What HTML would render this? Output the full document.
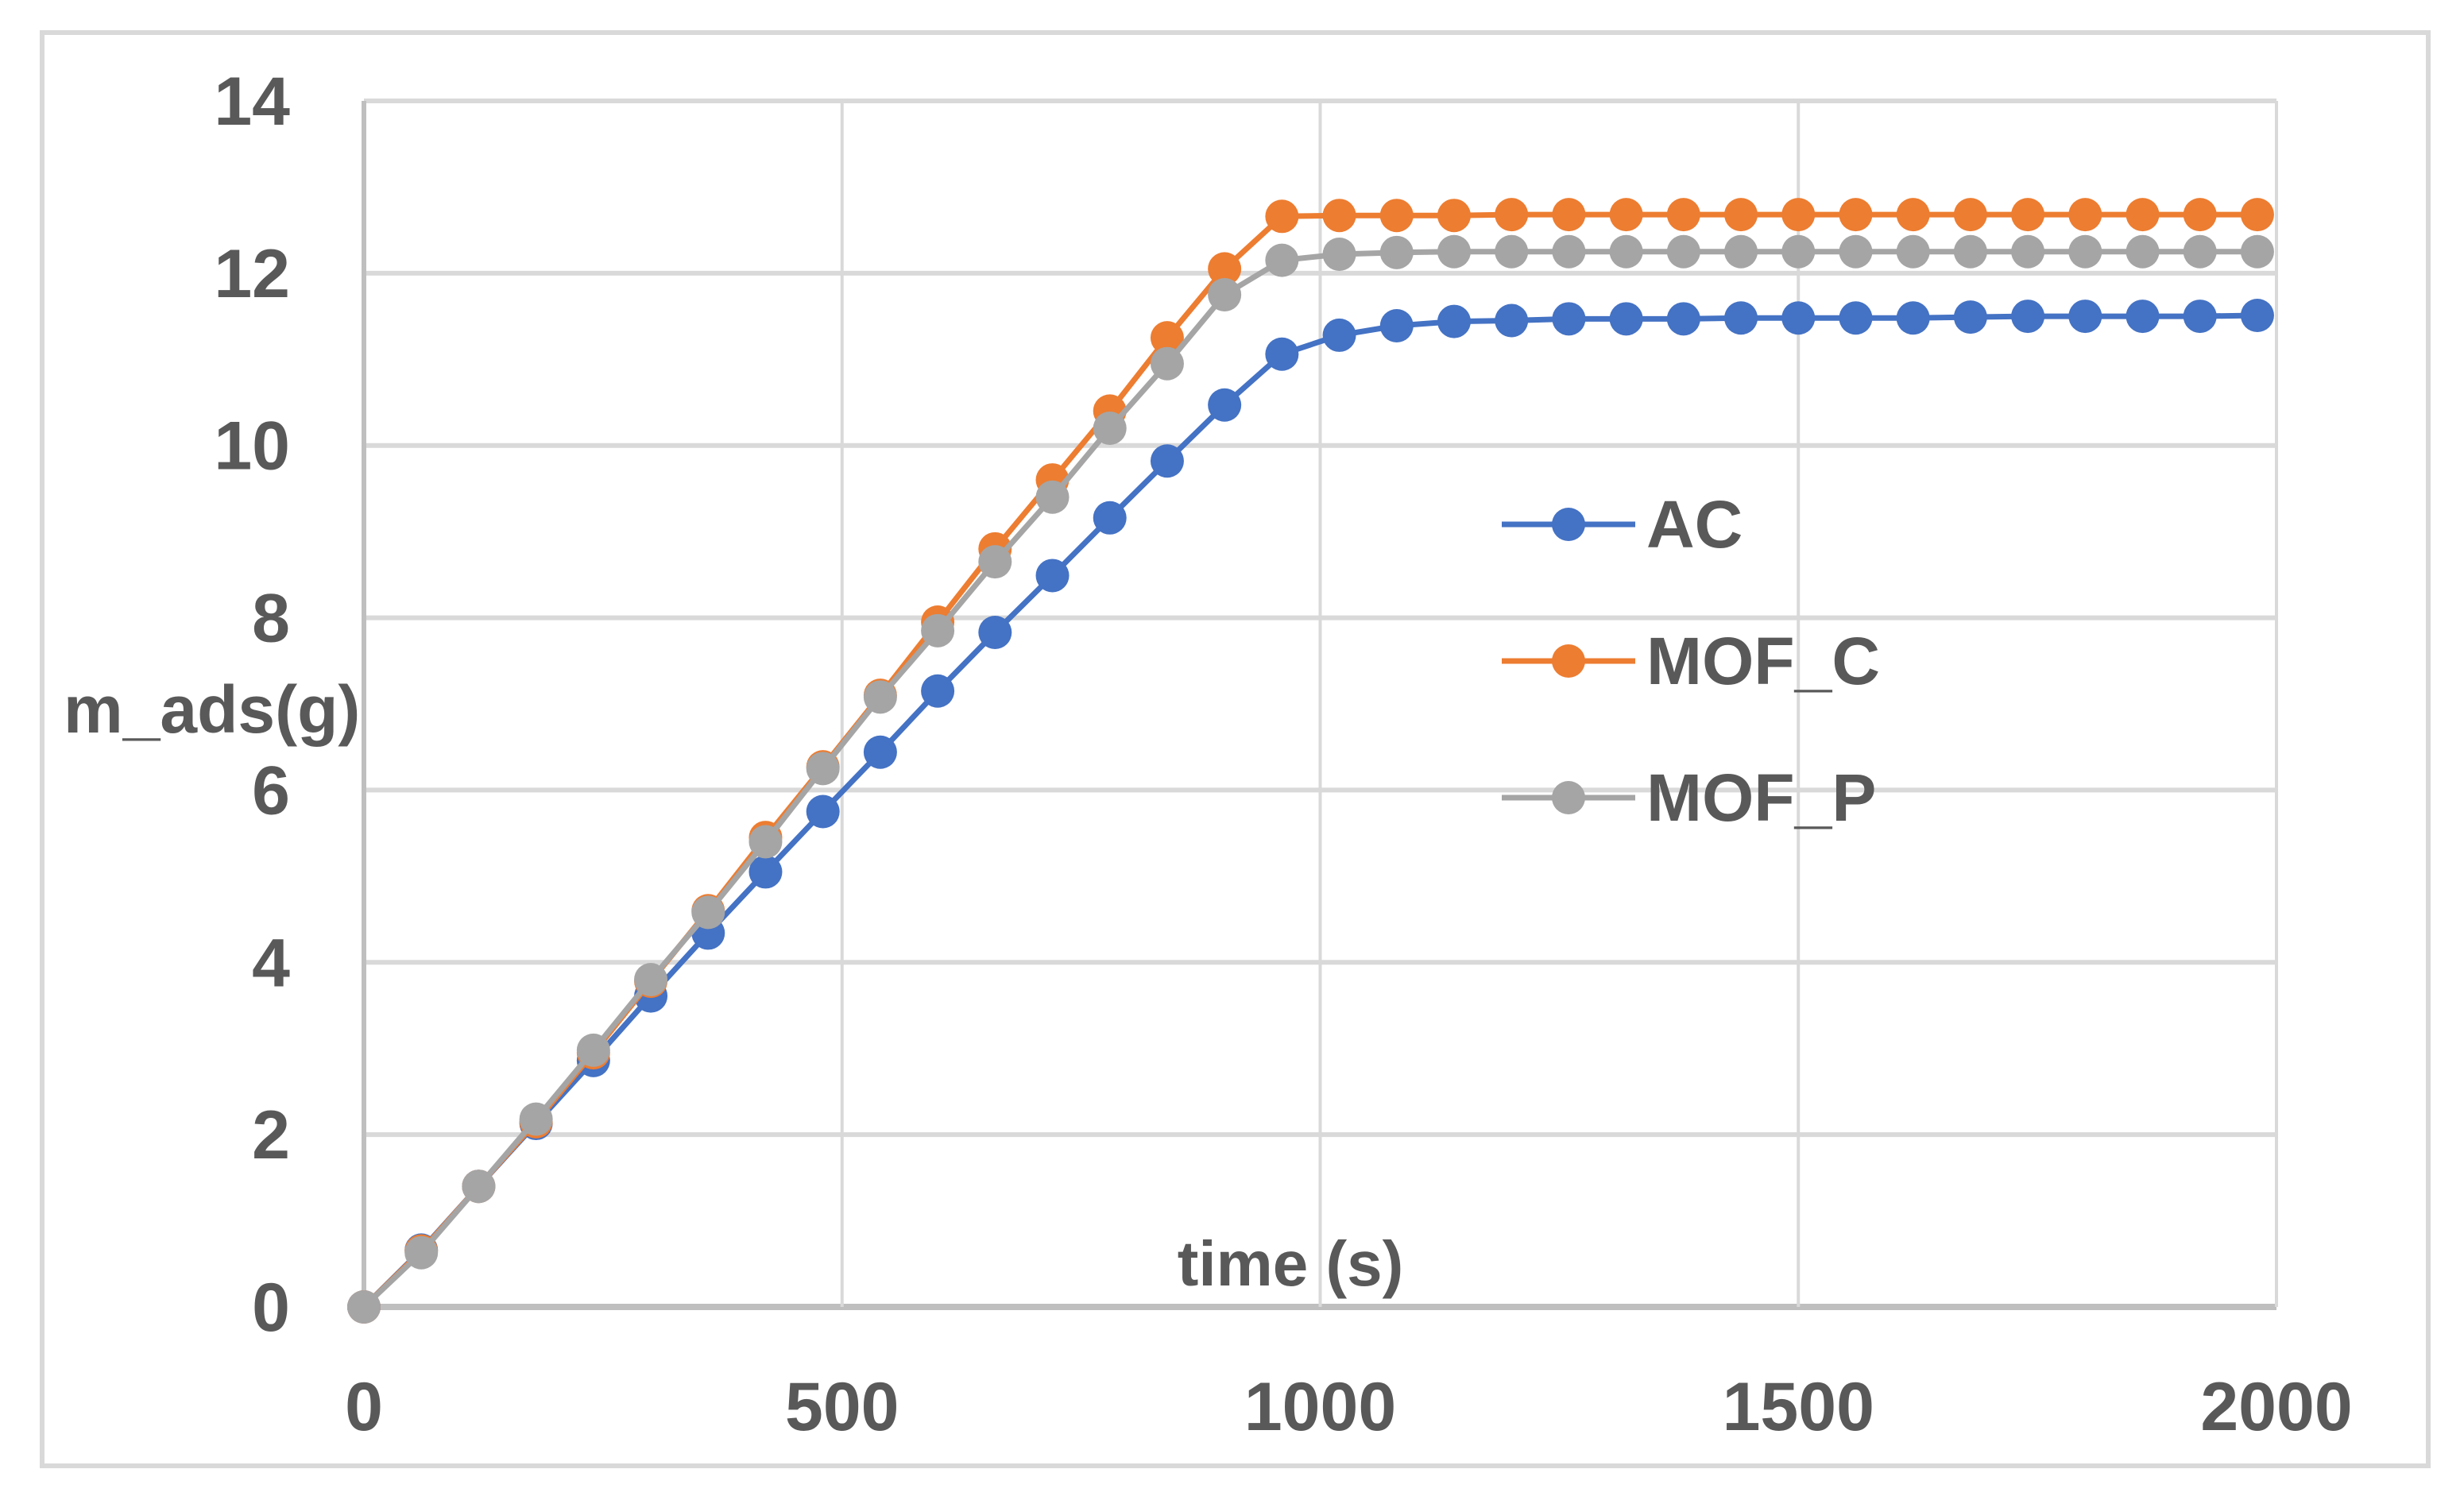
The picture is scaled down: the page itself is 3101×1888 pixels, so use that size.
<!DOCTYPE html>
<html><head><meta charset="utf-8"><style>
html,body{margin:0;padding:0;background:#fff;}
svg{display:block;}
text{font-family:"Liberation Sans",sans-serif;font-weight:bold;fill:#595959;}
</style></head><body>
<svg id="chart" width="3101" height="1888" viewBox="0 0 3101 1888" xmlns="http://www.w3.org/2000/svg">
<rect x="53" y="41" width="3003" height="1804" fill="#fff" stroke="#d9d9d9" stroke-width="6"/>
<g id="grid"></g>
<g id="series"></g>
<g id="labels"></g>
<text x="1624" y="1618" font-size="80" text-anchor="middle">time (s)</text>
<text x="80" y="922" font-size="84">m_ads(g)</text>
<g id="legend"></g>
</svg>
<script>
const xTicks=[0,500,1000,1500,2000];
const yTicks=[0,2,4,6,8,10,12,14];
const times=[0,60,120,180,240,300,360,420,480,540,600,660,720,780,840,900,960,1020,1080,1140,1200,1260,1320,1380,1440,1500,1560,1620,1680,1740,1800,1860,1920,1980];
const acValues=[0,0.66,1.4,2.13,2.86,3.61,4.34,5.05,5.75,6.44,7.15,7.83,8.49,9.16,9.82,10.47,11.06,11.28,11.39,11.44,11.45,11.47,11.47,11.47,11.48,11.48,11.48,11.48,11.49,11.5,11.5,11.5,11.5,11.51];
const mofCValues=[0,0.65,1.4,2.15,2.95,3.78,4.6,5.45,6.27,7.1,7.95,8.8,9.6,10.4,11.25,12.05,12.66,12.67,12.67,12.67,12.68,12.68,12.68,12.68,12.68,12.68,12.68,12.68,12.68,12.68,12.68,12.68,12.68,12.68];
const mofPValues=[0,0.63,1.4,2.18,2.98,3.8,4.58,5.4,6.25,7.08,7.85,8.65,9.4,10.2,10.95,11.75,12.15,12.22,12.24,12.25,12.25,12.25,12.25,12.25,12.25,12.25,12.25,12.25,12.25,12.25,12.25,12.25,12.25,12.25];
const seriesNames=["AC","MOF_C","MOF_P"];
const seriesColors=["#4472c4","#ed7d31","#a5a5a5"];
const NS="http://www.w3.org/2000/svg";
const X0=458,X1=2865,Y0=1645,Y1=127;
function xs(v){return X0+(v-0)/(2000-0)*(X1-X0);}
function ys(v){return Y0-(v-0)/(14-0)*(Y0-Y1);}
function mk(tag,attrs,parent){const e=document.createElementNS(NS,tag);for(const k in attrs)e.setAttribute(k,attrs[k]);parent.appendChild(e);return e;}
const grid=document.getElementById('grid'),labels=document.getElementById('labels'),ser=document.getElementById('series'),leg=document.getElementById('legend');
yTicks.forEach(t=>{
  const l=mk('line',{x1:X0,x2:X1,y1:ys(t),y2:ys(t),stroke:t===0?'#bfbfbf':'#d9d9d9','stroke-width':t===0?8:6},grid);
  
  
  const tx=mk('text',{x:365,y:ys(t)+30,'font-size':86,'text-anchor':'end'},labels);
  tx.textContent=t;
  
  
});
xTicks.forEach(t=>{
  const l=mk('line',{x1:xs(t),x2:xs(t),y1:Y1,y2:Y0,stroke:t===0?'#bfbfbf':'#d9d9d9','stroke-width':t===0?6:4},grid);
  
  
  const tx=mk('text',{x:xs(t),y:1800,'font-size':86,'text-anchor':'middle'},labels);
  tx.textContent=t;
  
  
});
const allVals=[acValues,mofCValues,mofPValues];
allVals.forEach((vals,si)=>{
  const g=mk('g',{},ser);
  
  
  const pts=vals.map((v,i)=>xs(times[i])+','+ys(v)).join(' ');
  const pl=mk('polyline',{points:pts,fill:'none',stroke:seriesColors[si],'stroke-width':7,'stroke-linejoin':'round'},g);
  
  
  vals.forEach((v,i)=>{
    const c=mk('circle',{cx:xs(times[i]),cy:ys(v),r:21,fill:seriesColors[si]},g);
    
    
  });
});
const legY=[660,832,1004];
seriesNames.forEach((n,i)=>{
  const g=mk('g',{},leg);
  
  
  mk('line',{x1:1890,x2:2058,y1:legY[i],y2:legY[i],stroke:seriesColors[i],'stroke-width':7},g);
  mk('circle',{cx:1974,cy:legY[i],r:21,fill:seriesColors[i]},g);
  const t=mk('text',{x:2072,y:legY[i]+29,'font-size':84},g);
  t.textContent=n;
});
</script>
</body></html>
